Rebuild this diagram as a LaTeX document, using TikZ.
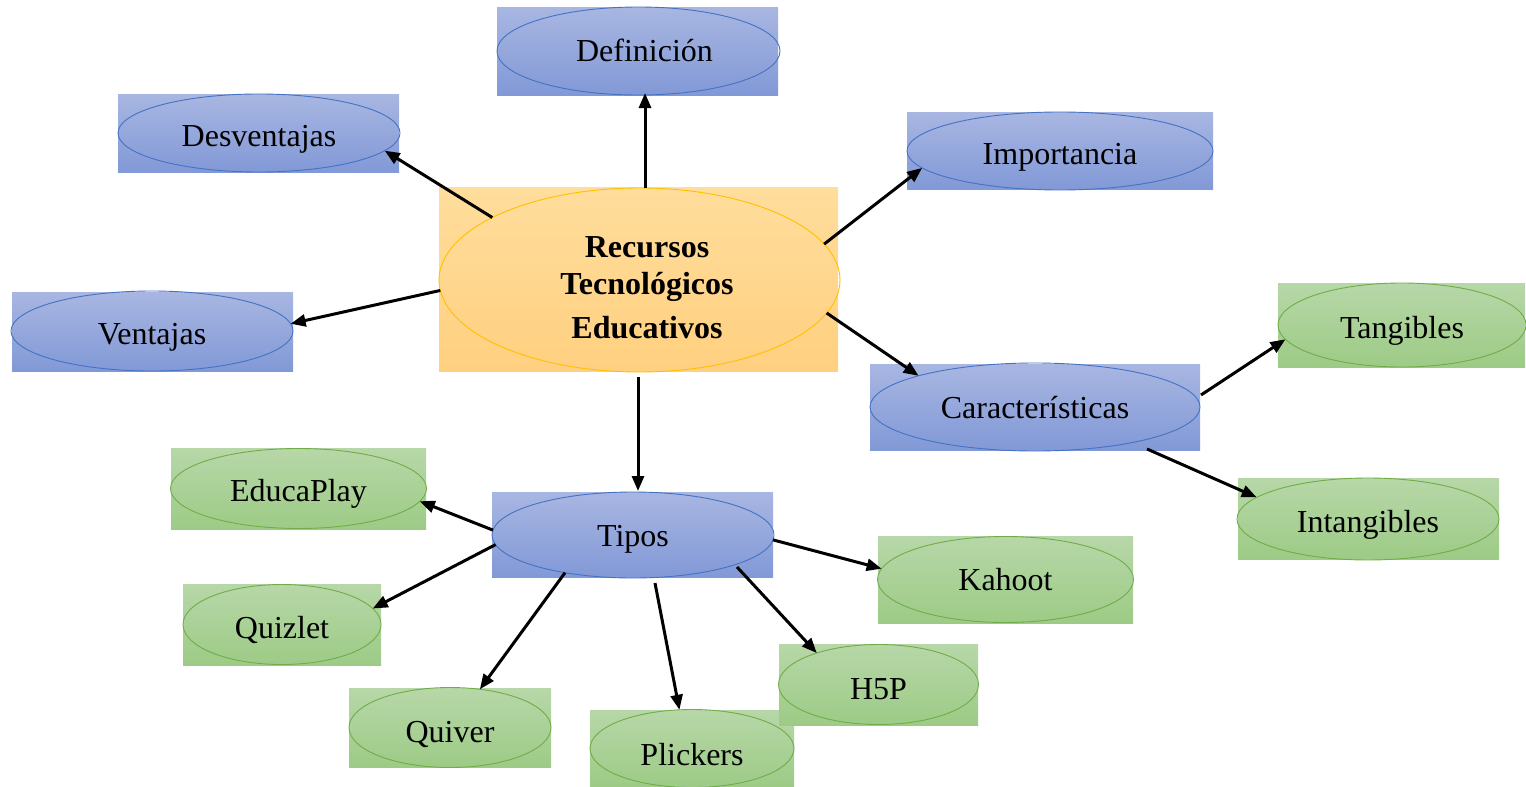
\documentclass[tikz,border=0pt]{standalone}
\usepackage{fontspec}
\setmainfont{Liberation Serif}
\usetikzlibrary{arrows.meta,shapes.geometric,calc}
\definecolor{bltop}{RGB}{168,182,225}
\definecolor{blbot}{RGB}{130,153,215}
\definecolor{blline}{RGB}{68,114,196}
\definecolor{grtop}{RGB}{183,215,168}
\definecolor{grbot}{RGB}{157,203,134}
\definecolor{grline}{RGB}{112,173,71}
\definecolor{ortop}{RGB}{255,221,156}
\definecolor{orbot}{RGB}{255,208,128}
\definecolor{orline}{RGB}{255,192,0}
\tikzset{
  rbox/.style={rectangle, draw=none, inner sep=0pt, outer sep=0pt},
  bluebox/.style={rbox, top color=bltop, bottom color=blbot},
  greenbox/.style={rbox, top color=grtop, bottom color=grbot},
  orangebox/.style={rbox, top color=ortop, bottom color=orbot},
  ell/.style={ellipse, inner sep=0pt, outer sep=0pt, line width=0.9pt,
    font=\fontsize{32}{37}\selectfont, text height=33pt, text depth=7pt},
  blueell/.style={ell, draw=blline},
  greenell/.style={ell, draw=grline},
  orangeell/.style={ell, draw=orline},
  arr/.style={line width=3pt, -{Triangle[length=15pt,width=12pt]}},
}
\begin{document}
\begin{tikzpicture}[x=1pt,y=-1pt]
\useasboundingbox (0,0) rectangle (1526,787);
% center
\node[orangebox, minimum width=399, minimum height=184] (cr) at (638.5,279) {};
\node[orangeell, minimum width=401, minimum height=184, text height=, text depth=] (c) at (639.5,280) {};
\node[font=\fontsize{32}{40}\selectfont\bfseries, align=center] (ct) at (647,288)
  {Recursos\\[-3pt]Tecnológicos\\[4pt]Educativos};
% blue nodes
\node[bluebox, minimum width=281, minimum height=88] (defr) at (637.5,51) {};
\node[blueell, minimum width=283, minimum height=88, text height=27pt] (def) at (638.5,51) {\hspace*{12pt}Definición};
\node[bluebox, minimum width=281, minimum height=78] (desr) at (258.5,133) {};
\node[blueell, minimum width=282, minimum height=78] (des) at (259,133) {Desventajas};
\node[bluebox, minimum width=306, minimum height=77] (impr) at (1060,150.5) {};
\node[blueell, minimum width=306, minimum height=78] (imp) at (1060,151) {Importancia};
\node[bluebox, minimum width=281, minimum height=79] (venr) at (152.5,331.5) {};
\node[blueell, minimum width=282, minimum height=80] (ven) at (152,331) {Ventajas};
\node[bluebox, minimum width=330, minimum height=86] (carr) at (1035,407) {};
\node[blueell, minimum width=330, minimum height=88, text height=29pt] (car) at (1035,407) {Características};
\node[bluebox, minimum width=281, minimum height=85] (tipr) at (632.5,534.5) {};
\node[blueell, minimum width=282, minimum height=86, text height=29pt] (tip) at (633,535) {Tipos};
% green nodes
\node[greenbox, minimum width=247, minimum height=84] (tanr) at (1401.5,325) {};
\node[greenell, minimum width=248, minimum height=84] (tan) at (1402,325) {Tangibles};
\node[greenbox, minimum width=261, minimum height=81] (intr) at (1368.5,518.5) {};
\node[greenell, minimum width=262, minimum height=82] (int) at (1368,519) {Intangibles};
\node[greenbox, minimum width=255, minimum height=81] (edur) at (298.5,488.5) {};
\node[greenell, minimum width=256, minimum height=80] (edu) at (298.5,488.5) {EducaPlay};
\node[greenbox, minimum width=198, minimum height=81] (quzr) at (282,624.5) {};
\node[greenell, minimum width=198, minimum height=80, text height=35pt] (quz) at (282,624.5) {Quizlet};
\node[greenbox, minimum width=202, minimum height=79] (quvr) at (450,727.5) {};
\node[greenell, minimum width=202, minimum height=80, text height=37pt] (quv) at (450,727.5) {Quiver};
\node[greenbox, minimum width=204, minimum height=77] (plir) at (692,748.5) {};
\node[greenell, minimum width=204, minimum height=78, text height=41pt] (pli) at (692,748.5) {Plickers};
\node[greenbox, minimum width=199, minimum height=81] (h5pr) at (878.5,684.5) {};
\node[greenell, minimum width=200, minimum height=80, text height=37pt] (h5p) at (878.5,684.5) {H5P};
\node[greenbox, minimum width=255, minimum height=87] (kahr) at (1005.5,579.5) {};
\node[greenell, minimum width=256, minimum height=86, text height=29pt] (kah) at (1005.5,579.5) {Kahoot};
% arrows
\draw[arr] ($(c.north)+(5.5,0)$) -- ($(def.south)+(6.5,-2)$);
\draw[arr] (c.157.6) -- (des.-8.7);
\draw[arr] (c.11.5) -- (imp.187.6);
\draw[arr] (c.183.5) -- (ven.3.8);
\draw[arr] (c.-10.4) -- (car.165.4);
\draw[arr] ($(c.south)+(-1.5,5)$) -- ($(tip.north)+(5,-1)$);
\draw[arr] ($(car)+(166,-12)$) -- (tan.187.6);
\draw[arr] ($(car)+(112,42)$) -- (int.169.9);
\draw[arr] (tip.178) -- (edu.-6.9);
\draw[arr] (tip.184.9) -- (quz.10);
\draw[arr] (tip.209.7) -- (quv.52.5);
\draw[arr] ($(tip)+(22,48)$) -- (pli.108);
\draw[arr] ($(tip)+(104,32)$) -- (h5p.153.6);
\draw[arr] (tip.-2) -- (kah.175);
\end{tikzpicture}
\end{document}
